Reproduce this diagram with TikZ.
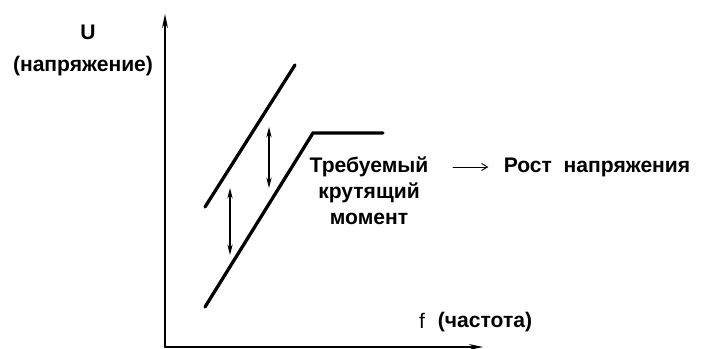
\documentclass[tikz,border=0pt]{standalone}
\usepackage{fontspec}
\setmainfont{Liberation Sans}
\usetikzlibrary{arrows.meta}

\begin{document}
\begin{tikzpicture}[x=0.03cm, y=-0.03cm, line cap=round,
  axis/.style={line width=1.6pt, -{Stealth[length=12pt,width=5pt]}},
  curve/.style={line width=2.8pt},
  gap/.style={line width=0.9pt, {Stealth[length=9pt,width=4.5pt]}-{Stealth[length=9pt,width=4.5pt]}},
  lbl/.style={font=\fontsize{18}{22}\selectfont\bfseries, inner sep=0pt}]
\useasboundingbox (0,0) rectangle (701,349);
% ---------- оси ----------
\coordinate (O) at (165,347);
\coordinate (Utop) at (165,14);
\coordinate (fend) at (483,347);
\draw[axis] (O) -- (Utop);
\draw[axis] (O) -- (fend);
\node[lbl] (U) at (88,32) {U};
\node[lbl] (Uname) at (83,66) {(напряжение)};
\node[lbl, font=\fontsize{18}{22}\selectfont] (f) at (422,321) {f};
\node[lbl] (fname) at (485,322) {(частота)};
% ---------- характеристики ----------
\coordinate (a1) at (205,207);
\coordinate (a2) at (295,65);
\coordinate (b1) at (205,307);
\coordinate (b2) at (313,133);
\coordinate (b3) at (383,133);
\draw[curve] (a1) -- (a2);
\draw[curve, line join=miter] (b1) -- (b2) -- (b3);
% двойные стрелки (подъём напряжения)
\coordinate (g1t) at (269,127);
\coordinate (g1b) at (269,188);
\coordinate (g2t) at (230,188);
\coordinate (g2b) at (230,255);
\draw[gap] (g1t) -- (g1b);
\draw[gap] (g2t) -- (g2b);
% ---------- подписи ----------
\node[lbl] (treb) at (369,167) {Требуемый};
\node[lbl] (krut) at (369,193) {крутящий};
\node[lbl] (mom) at (369,219) {момент};
\node[lbl] (rost) at (597,167) {Рост\ \ напряжения};
\draw[line width=0.8pt, -{Straight Barb[length=5pt,width=6pt]}]
  ([xshift=21pt]treb.east) -- ([xshift=-13pt]rost.west);
\end{tikzpicture}
\end{document}
